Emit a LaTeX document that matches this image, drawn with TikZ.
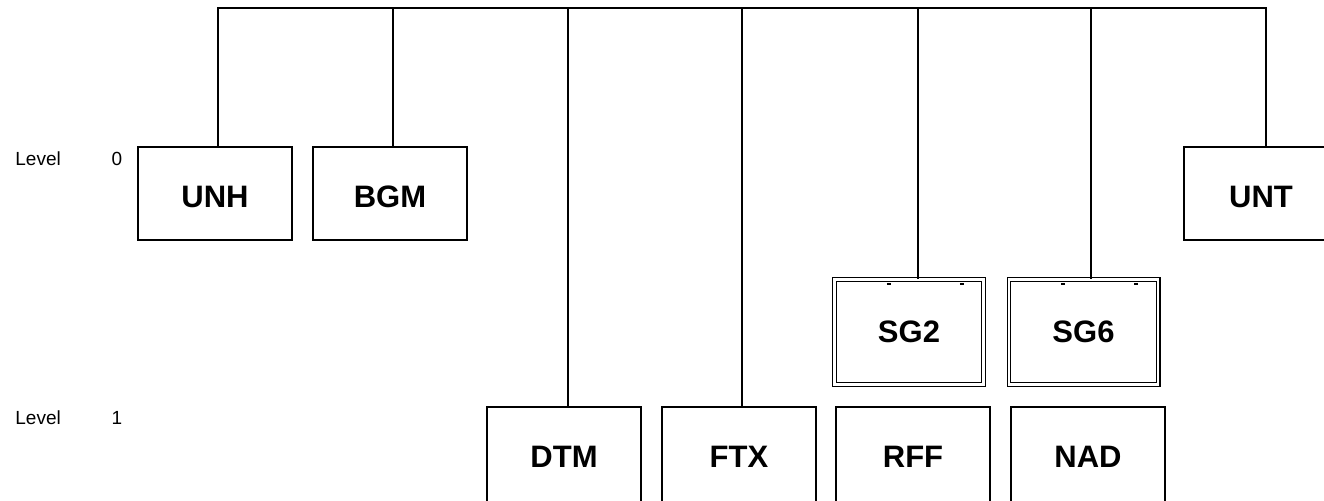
\documentclass[tikz,border=0pt]{standalone}
\usepackage{fontspec}
\setmainfont{Liberation Sans}
\usetikzlibrary{calc}

\begin{document}
\begin{tikzpicture}[x=0.5pt, y=-0.5pt,
  unit/.style={draw, line width=1pt, inner sep=0pt, minimum width=77pt, minimum height=46.5pt,
    text height=13.6pt, font=\bfseries\fontsize{15.5}{16}\selectfont},
  low unit/.style={unit, minimum height=50pt, text height=10.1pt},
  group/.style={draw, double, line width=0.6pt, double distance=1.2pt, inner sep=0pt,
    minimum width=74.6pt, minimum height=52.6pt, font=\bfseries\fontsize{15.5}{16}\selectfont},
  link/.style={line width=1pt},
  lvl/.style={inner sep=0pt, font=\fontsize{9.5}{10}\selectfont}]
  \useasboundingbox (0,0) rectangle (1324,501);
  \clip (0,0) rectangle (1324,501);

  % level labels
  \node[lvl, anchor=west] (lvl0) at (15,159) {Level};
  \node[lvl] (lvl0n) at (117,159) {0};
  \node[lvl, anchor=west] (lvl1) at (15,418) {Level};
  \node[lvl] (lvl1n) at (117,418) {1};

  % level 0
  \node[unit] (unh) at (215,194) {UNH};
  \node[unit] (bgm) at (390,194) {BGM};
  \node[unit] (unt) at (1261,194) {UNT};

  % groups
  \node[group] (sg2) at (909,332) {SG2};
  \node[group] (sg6) at (1083.5,332) {SG6};
  \draw[line width=1pt] ($(sg2.north west)+(53,5)$) -- ++(4,0);
  \draw[line width=1pt] ($(sg2.north west)+(126,5)$) -- ++(4,0);
  \draw[line width=1pt] ($(sg6.north west)+(53,5)$) -- ++(4,0);
  \draw[line width=1pt] ($(sg6.north west)+(126,5)$) -- ++(4,0);

  % level 1
  \node[low unit] (dtm) at (564,457) {DTM};
  \node[low unit] (ftx) at (739,457) {FTX};
  \node[low unit] (rff) at (913,457) {RFF};
  \node[low unit] (nad) at (1088,457) {NAD};

  % bus
  \coordinate (b-unh) at (218,8);
  \coordinate (b-bgm) at (393,8);
  \coordinate (b-dtm) at (568,8);
  \coordinate (b-ftx) at (742,8);
  \coordinate (b-sg2) at (918,8);
  \coordinate (b-sg6) at (1091,8);
  \coordinate (b-unt) at (1266,8);

  \draw[link, line join=miter] (b-unh |- unh.north) -- (b-unh) -- (b-unt) -- (b-unt |- unt.north);
  \foreach \n in {bgm, dtm, ftx, sg2, sg6}
    \draw[link] (b-\n) -- (b-\n |- \n.north);
\end{tikzpicture}
\end{document}
